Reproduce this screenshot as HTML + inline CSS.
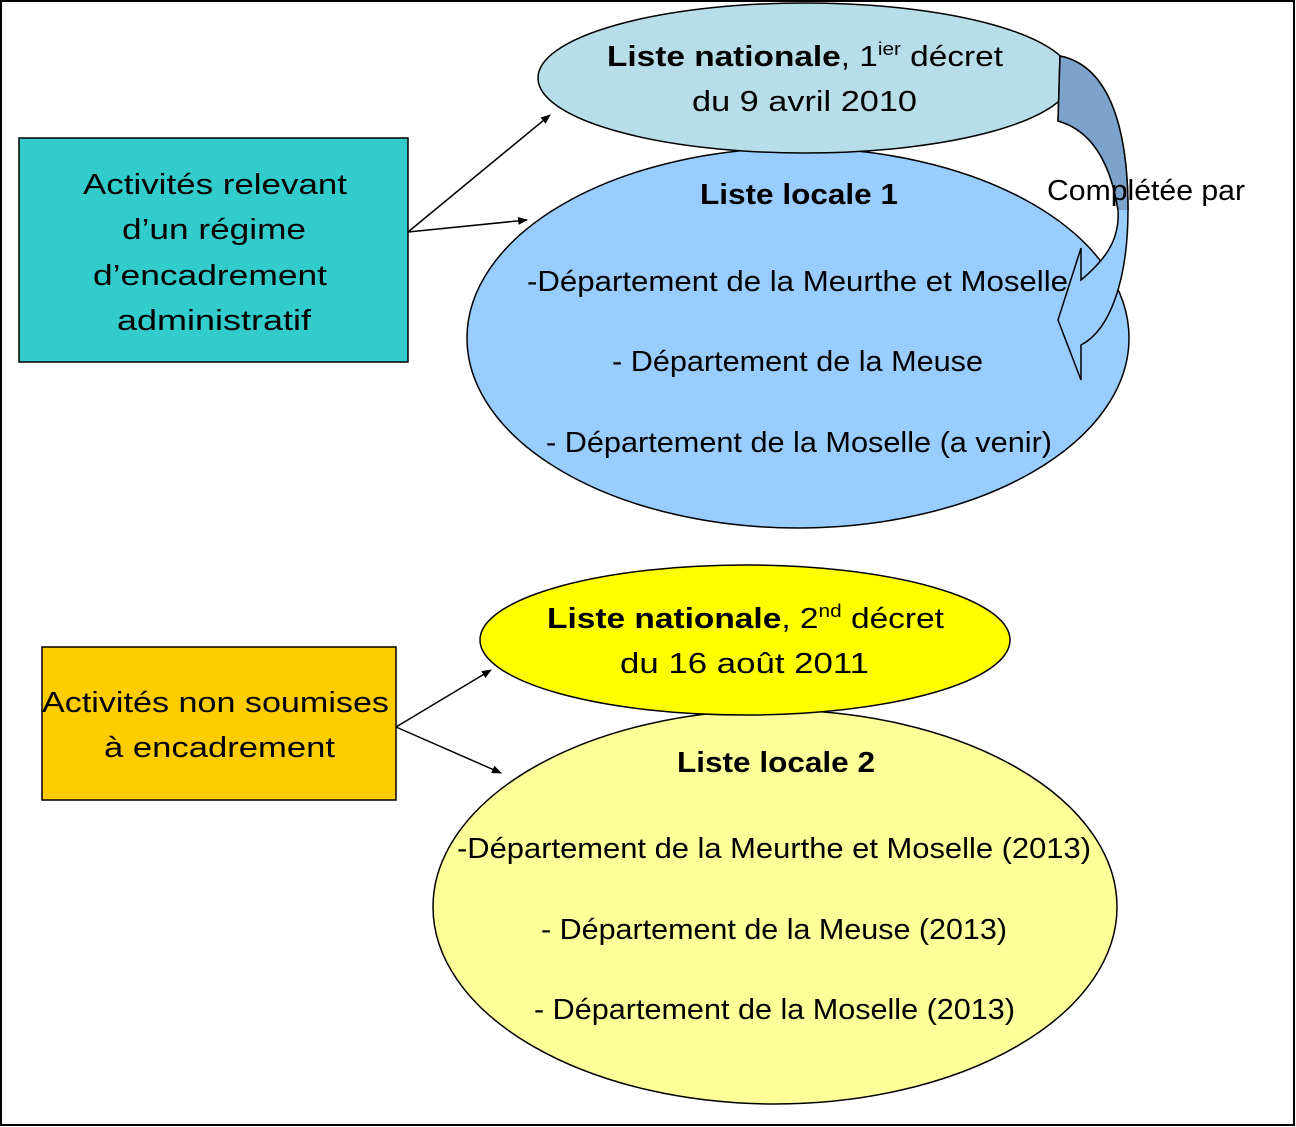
<!DOCTYPE html>
<html><head><meta charset="utf-8"><style>
html,body{margin:0;padding:0;background:#fff}
svg{display:block}
text{font-family:"Liberation Sans",sans-serif;font-size:29px;fill:#000}
</style></head><body>
<svg width="1296" height="1127" viewBox="0 0 1296 1127" xmlns="http://www.w3.org/2000/svg">
<defs>
<marker id="ah" markerWidth="10" markerHeight="8" refX="9" refY="4" orient="auto" markerUnits="userSpaceOnUse" viewBox="0 0 10 8">
<path d="M0,0 L10,4 L0,8 z" fill="#000"/></marker>
<clipPath id="topc"><rect x="1000" y="0" width="200" height="210"/></clipPath>
</defs>
<rect x="1" y="1" width="1293" height="1124" fill="#fff" stroke="#000" stroke-width="2"/>

<rect x="19" y="138" width="389" height="224" fill="#33cccc" stroke="#000" stroke-width="1.5"/>
<text x="83" y="194" textLength="264" lengthAdjust="spacingAndGlyphs">Activités relevant</text>
<text x="122" y="239" textLength="184" lengthAdjust="spacingAndGlyphs">d’un régime</text>
<text x="93" y="285" textLength="234" lengthAdjust="spacingAndGlyphs">d’encadrement</text>
<text x="117" y="330" textLength="194" lengthAdjust="spacingAndGlyphs">administratif</text>

<rect x="42" y="647" width="354" height="153" fill="#ffcc00" stroke="#000" stroke-width="1.5"/>
<text x="42" y="712" textLength="347" lengthAdjust="spacingAndGlyphs">Activités non soumises</text>
<text x="104" y="757" textLength="231" lengthAdjust="spacingAndGlyphs">à encadrement</text>

<line x1="408" y1="232" x2="550" y2="115" stroke="#000" stroke-width="1.5" marker-end="url(#ah)"/>
<line x1="408" y1="232" x2="527" y2="220" stroke="#000" stroke-width="1.5" marker-end="url(#ah)"/>
<line x1="396" y1="727" x2="491" y2="670" stroke="#000" stroke-width="1.5" marker-end="url(#ah)"/>
<line x1="396" y1="727" x2="501" y2="773" stroke="#000" stroke-width="1.5" marker-end="url(#ah)"/>

<ellipse cx="798" cy="338" rx="331" ry="190" fill="#99ccff" stroke="#000" stroke-width="1.5"/>
<ellipse cx="805" cy="78" rx="267" ry="75" fill="#b7dee8" stroke="#000" stroke-width="1.5"/>
<text x="607" y="66" textLength="396" lengthAdjust="spacingAndGlyphs"><tspan font-weight="bold">Liste nationale</tspan>, 1<tspan font-size="18" dy="-11">ier</tspan><tspan dy="11"> décret</tspan></text>
<text x="692" y="111" textLength="225" lengthAdjust="spacingAndGlyphs">du 9 avril 2010</text>
<text x="700" y="204" font-weight="bold" textLength="198" lengthAdjust="spacingAndGlyphs">Liste locale 1</text>
<text x="527" y="291" textLength="541" lengthAdjust="spacingAndGlyphs">-Département de la Meurthe et Moselle</text>
<text x="612" y="371" textLength="371" lengthAdjust="spacingAndGlyphs">- Département de la Meuse</text>
<text x="546" y="452" textLength="506" lengthAdjust="spacingAndGlyphs">- Département de la Moselle (a venir)</text>

<g stroke="#000" stroke-width="1.5" stroke-linejoin="miter">
<path d="M1060,56 C1110,66 1128,130 1128,210 C1128,280 1110,330 1081,345 L1081,380 L1058,320 L1081,248 L1081,280 C1105,260 1120,240 1118,210 C1110,160 1090,130 1058,121 Z" fill="#99ccff"/>
<path d="M1060,56 C1110,66 1128,130 1128,210 C1128,280 1110,330 1081,345 L1081,380 L1058,320 L1081,248 L1081,280 C1105,260 1120,240 1118,210 C1110,160 1090,130 1058,121 Z" fill="#7ba3cc" clip-path="url(#topc)"/>
</g>
<text x="1047" y="200" textLength="198" lengthAdjust="spacingAndGlyphs">Complétée par</text>

<ellipse cx="775" cy="907" rx="342" ry="197" fill="#ffff99" stroke="#000" stroke-width="1.5"/>
<ellipse cx="745" cy="640" rx="265" ry="75" fill="#ffff00" stroke="#000" stroke-width="1.5"/>
<text x="547" y="628" textLength="397" lengthAdjust="spacingAndGlyphs"><tspan font-weight="bold">Liste nationale</tspan>, 2<tspan font-size="18" dy="-11">nd</tspan><tspan dy="11"> décret</tspan></text>
<text x="620" y="673" textLength="249" lengthAdjust="spacingAndGlyphs">du 16 août 2011</text>
<text x="677" y="772" font-weight="bold" textLength="198" lengthAdjust="spacingAndGlyphs">Liste locale 2</text>
<text x="457" y="858" textLength="634" lengthAdjust="spacingAndGlyphs">-Département de la Meurthe et Moselle (2013)</text>
<text x="541" y="939" textLength="466" lengthAdjust="spacingAndGlyphs">- Département de la Meuse (2013)</text>
<text x="534" y="1019" textLength="481" lengthAdjust="spacingAndGlyphs">- Département de la Moselle (2013)</text>
</svg>
</body></html>
